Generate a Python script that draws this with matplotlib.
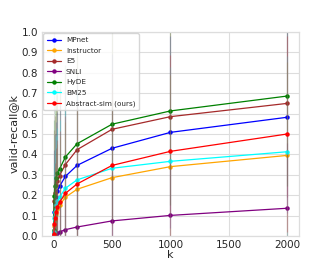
import matplotlib
matplotlib.use("Agg")
import matplotlib.pyplot as plt
import seaborn as sns

k = [1, 5, 10, 20, 30, 50, 100, 200, 500, 1000, 2000]

mpnet = [0.02, 0.12, 0.16, 0.19, 0.22, 0.243, 0.292, 0.346, 0.43, 0.508, 0.582]
instructor = [0.01, 0.05, 0.08, 0.11, 0.13, 0.15, 0.19, 0.229, 0.286, 0.34, 0.395]
e5 = [0.02, 0.17, 0.21, 0.25, 0.27, 0.296, 0.35, 0.423, 0.523, 0.585, 0.65]
snli = [0.002, 0.005, 0.008, 0.012, 0.015, 0.02, 0.031, 0.044, 0.074, 0.101, 0.136]
hyde = [0.03, 0.198, 0.245, 0.286, 0.309, 0.328, 0.387, 0.452, 0.548, 0.613, 0.686]
bm25 = [0.02, 0.09, 0.12, 0.15, 0.17, 0.19, 0.234, 0.275, 0.332, 0.366, 0.413]
abstract_sim = [0.01, 0.06, 0.09, 0.12, 0.14, 0.165, 0.209, 0.255, 0.346, 0.415, 0.50]

mpnet_std = [0.10, 0.30, 0.34, 0.37, 0.39, 0.40, 0.42, 0.44, 0.46, 0.47, 0.47]
instructor_std = [0.08, 0.20, 0.26, 0.30, 0.32, 0.34, 0.37, 0.40, 0.43, 0.45, 0.46]
e5_std = [0.12, 0.35, 0.38, 0.41, 0.42, 0.43, 0.45, 0.46, 0.47, 0.47, 0.46]
snli_std = [0.03, 0.05, 0.07, 0.09, 0.10, 0.12, 0.15, 0.18, 0.24, 0.28, 0.32]
hyde_std = [0.14, 0.37, 0.40, 0.42, 0.43, 0.43, 0.45, 0.46, 0.47, 0.46, 0.44]
bm25_std = [0.10, 0.27, 0.31, 0.34, 0.36, 0.38, 0.40, 0.43, 0.45, 0.46, 0.47]
abstract_sim_std = [0.08, 0.22, 0.27, 0.31, 0.33, 0.35, 0.38, 0.41, 0.45, 0.47, 0.48]

series = [
    ("MPnet", mpnet, mpnet_std, "blue"),
    ("Instructor", instructor, instructor_std, "orange"),
    ("E5", e5, e5_std, "brown"),
    ("SNLI", snli, snli_std, "purple"),
    ("HyDE", hyde, hyde_std, "green"),
    ("BM25", bm25, bm25_std, "cyan"),
    ("Abstract-sim (ours)", abstract_sim, abstract_sim_std, "red"),
]

sns.set_style("whitegrid")
plt.rcParams['font.family'] = ['DejaVu Sans']

fig = plt.figure(figsize=(3.32, 2.66), dpi=100)
ax = fig.add_axes([0.1265, 0.1128, 0.774, 0.767])

for name, vals, std, col in series:
    ax.plot(k, vals, color=col, marker='o', markersize=2.2, linewidth=0.9, label=name)
    ax.errorbar(k, vals, yerr=std, fmt='none', ecolor=col, elinewidth=0.9, alpha=0.2)

ax.set_ylim(0, 1.0)
ax.set_xlim(-100, 2100)
ax.set_yticks([0.0, 0.1, 0.2, 0.3, 0.4, 0.5, 0.6, 0.7, 0.8, 0.9, 1.0])
ax.set_xticks([0, 500, 1000, 1500, 2000])
ax.tick_params(axis='both', labelsize=7.5, pad=3, length=0, labelcolor='#262626')
ax.set_xlabel("k", fontsize=8, labelpad=0)
ax.set_ylabel("valid-recall@k", fontsize=8, labelpad=2)
ax.grid(True, color='#dddddd', linewidth=0.8)
for s in ax.spines.values():
    s.set_color('#dddddd')
    s.set_linewidth(0.9)

ax.legend(loc='upper left', fontsize=5.2, frameon=True, borderpad=0.5,
          labelspacing=0.62, handlelength=2.0, handletextpad=0.6,
          borderaxespad=0.2, fancybox=True)

fig.savefig("out.png", dpi=100)
